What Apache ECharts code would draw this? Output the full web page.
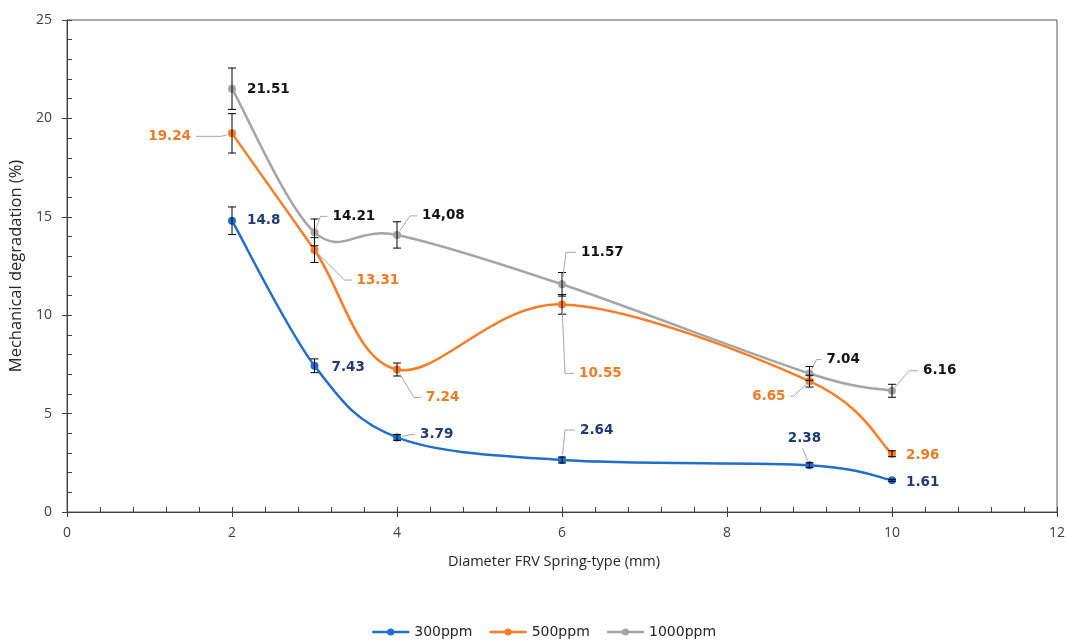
<!DOCTYPE html>
<html>
<head>
<meta charset="utf-8">
<script src="https://cdn.jsdelivr.net/npm/echarts@6/dist/echarts.min.js"></script>
<style>
  html, body { margin: 0; padding: 0; background: #fff; }
  #chart { width: 1069px; height: 641px; }
</style>
</head>
<body>
<div id="chart"></div>
<script>
// Spring-type FRV diameter (mm) and mechanical degradation (%) per polymer concentration
const diameters = [2, 3, 4, 6, 9, 10];
const seriesNames = ['300ppm', '500ppm', '1000ppm'];

const deg300  = [14.8, 7.43, 3.79, 2.64, 2.38, 1.61];
const deg500  = [19.24, 13.31, 7.24, 10.55, 6.65, 2.96];
const deg1000 = [21.51, 14.21, 14.08, 11.57, 7.04, 6.16];

// standard error (±) for each measurement
const err300  = [0.7, 0.35, 0.15, 0.15, 0.12, 0.05];
const err500  = [1.0, 0.63, 0.33, 0.5, 0.3, 0.15];
const err1000 = [1.05, 0.68, 0.67, 0.6, 0.35, 0.33];

// data label texts
const text300  = ['14.8', '7.43', '3.79', '2.64', '2.38', '1.61'];
const text500  = ['19.24', '13.31', '7.24', '10.55', '6.65', '2.96'];
const text1000 = ['21.51', '14.21', '14,08', '11.57', '7.04', '6.16'];

// label placement (pixel offset from the marker, optional leader elbow length)
const place300 = [
  { dx: 15, dy: 0 },
  { dx: 17, dy: 2 },
  { dx: 23, dy: -3, el: 8 },
  { dx: 18, dy: -30, el: 15 },
  { dx: -5, dy: -27, align: 'center', lead: true },
  { dx: 14, dy: 2 }
];
const place500 = [
  { dx: -41, dy: 3, align: 'right', el: 30 },
  { dx: 42, dy: 30, el: 12 },
  { dx: 29, dy: 28, el: 12 },
  { dx: 17, dy: 69, el: 14 },
  { dx: -24, dy: 15, align: 'right', el: 8 },
  { dx: 14, dy: 2 }
];
const place1000 = [
  { dx: 15, dy: 1 },
  { dx: 18, dy: -16, el: 12 },
  { dx: 25, dy: -19, el: 12 },
  { dx: 19, dy: -32, el: 15 },
  { dx: 17, dy: -14, el: 10 },
  { dx: 31, dy: -20, el: 14 }
];

const COLORS = ['#1f6fd2', '#f97c26', '#a5a5a5'];
const LABEL_COLORS = ['#1f3a78', '#f07a22', '#141414'];
const AXIS_COLOR = '#404040';
const AXIS_FONT = '"Open Sans"';

function pairs(values) {
  return diameters.map((d, i) => [d, values[i]]);
}

// markers (the connecting curve is drawn by curveSeries)
function markerSeries(name, values, color) {
  return {
    name: name,
    type: 'line',
    data: pairs(values),
    symbol: 'circle',
    symbolSize: 8,
    z: 4,
    lineStyle: { color: color, width: 2.5, opacity: 0 },
    itemStyle: { color: color },
    emphasis: { disabled: true }
  };
}

// smoothed curve through the points: cubic Bézier segments with
// Catmull-Rom style control points (tangent = (P[i+1] - P[i-1]) / 6)
function curveSeries(values, color) {
  return {
    type: 'custom',
    z: 2,
    silent: true,
    data: pairs(values),
    encode: { x: 0, y: 1 },
    renderItem: function (params, api) {
      if (params.dataIndex !== 0) return null;
      const pts = diameters.map((d, i) => api.coord([d, values[i]]));
      const n = pts.length;
      const children = [];
      for (let i = 0; i < n - 1; i++) {
        const p0 = pts[Math.max(i - 1, 0)];
        const p1 = pts[i];
        const p2 = pts[i + 1];
        const p3 = pts[Math.min(i + 2, n - 1)];
        children.push({
          type: 'bezierCurve',
          shape: {
            x1: p1[0], y1: p1[1],
            x2: p2[0], y2: p2[1],
            cpx1: p1[0] + (p2[0] - p0[0]) / 6, cpy1: p1[1] + (p2[1] - p0[1]) / 6,
            cpx2: p2[0] - (p3[0] - p1[0]) / 6, cpy2: p2[1] - (p3[1] - p1[1]) / 6
          },
          style: { stroke: color, lineWidth: 2.5, fill: null, lineCap: 'round' }
        });
      }
      return { type: 'group', children: children };
    }
  };
}

function errorSeries(values, errs) {
  return {
    type: 'custom',
    z: 6,
    silent: true,
    data: diameters.map((d, i) => [d, values[i] - errs[i], values[i] + errs[i]]),
    encode: { x: 0, y: [1, 2] },
    renderItem: function (params, api) {
      const x = api.value(0);
      const lo = api.coord([x, api.value(1)]);
      const hi = api.coord([x, api.value(2)]);
      const w = 4;
      const st = { stroke: '#000', lineWidth: 1 };
      return {
        type: 'group',
        children: [
          { type: 'line', shape: { x1: lo[0], y1: lo[1], x2: hi[0], y2: hi[1] }, style: st },
          { type: 'line', shape: { x1: lo[0] - w, y1: lo[1], x2: lo[0] + w, y2: lo[1] }, style: st },
          { type: 'line', shape: { x1: hi[0] - w, y1: hi[1], x2: hi[0] + w, y2: hi[1] }, style: st }
        ]
      };
    }
  };
}

function annotationSeries(values, texts, places, color) {
  return {
    type: 'custom',
    z: 10,
    silent: true,
    data: diameters.map((d, i) => [d, values[i], i]),
    encode: { x: 0, y: 1 },
    renderItem: function (params, api) {
      const i = api.value(2);
      const p = api.coord([api.value(0), api.value(1)]);
      const pl = places[i];
      const align = pl.align || 'left';
      const ax = p[0] + pl.dx;
      const ay = p[1] + pl.dy;
      const children = [];
      const leadStyle = { stroke: '#a6a6a6', lineWidth: 1, fill: null };
      if (pl.el) {
        const s = align === 'right' ? 1 : -1;
        const elbow = [ax + s * pl.el, ay];
        const end = [ax + s * 5, ay];
        const vx = elbow[0] - p[0], vy = elbow[1] - p[1];
        const len = Math.hypot(vx, vy) || 1;
        const start = [p[0] + vx / len * 5, p[1] + vy / len * 5];
        children.push({ type: 'polyline', shape: { points: [start, elbow, end] }, style: leadStyle });
      }
      if (pl.lead) {
        const target = [ax - 2, ay + 10];
        const vx = target[0] - p[0], vy = target[1] - p[1];
        const len = Math.hypot(vx, vy) || 1;
        const start = [p[0] + vx / len * 5, p[1] + vy / len * 5];
        children.push({ type: 'polyline', shape: { points: [start, target] }, style: leadStyle });
      }
      children.push({
        type: 'text',
        style: {
          text: texts[i],
          x: ax,
          y: ay,
          align: align,
          verticalAlign: 'middle',
          fill: color,
          font: 'bold 13.5px "DejaVu Sans"'
        }
      });
      return { type: 'group', children: children };
    }
  };
}

const chart = echarts.init(document.getElementById('chart'), null, { renderer: 'canvas' });

chart.setOption({
  animation: false,
  backgroundColor: '#ffffff',
  grid: {
    left: 67, right: 12, top: 20, bottom: 129,
    show: true, borderColor: '#595959', borderWidth: 1, backgroundColor: 'transparent'
  },
  legend: {
    data: seriesNames.map((n, k) => ({
      name: n,
      lineStyle: { color: COLORS[k], width: 2.5, opacity: 1 },
      itemStyle: { color: COLORS[k] }
    })),
    left: 366,
    top: 620,
    itemWidth: 37,
    itemHeight: 9,
    itemGap: 16,
    textStyle: { fontFamily: '"DejaVu Sans"', fontSize: 14, color: '#262626' }
  },
  xAxis: [
    {
      type: 'value', min: 0, max: 12, interval: 2,
      name: 'Diameter FRV Spring-type (mm)',
      nameLocation: 'middle', nameGap: 42,
      nameTextStyle: { fontFamily: AXIS_FONT, fontSize: 14.5, color: '#262626', padding: [0, 16, 0, 0] },
      axisLine: { show: true, lineStyle: { color: AXIS_COLOR, width: 1 } },
      axisTick: { show: true, inside: true, length: 5, lineStyle: { color: AXIS_COLOR } },
      minorTick: { show: true, splitNumber: 5, length: 5, lineStyle: { color: AXIS_COLOR } },
      splitLine: { show: false },
      axisLabel: { fontFamily: AXIS_FONT, fontSize: 14, color: '#404040', margin: 14 }
    },
    {
      type: 'value', min: 0, max: 12, interval: 2, position: 'bottom',
      axisLine: { show: false },
      axisTick: { show: true, inside: false, length: 5, lineStyle: { color: AXIS_COLOR } },
      axisLabel: { show: false },
      splitLine: { show: false }
    }
  ],
  yAxis: [
    {
      type: 'value', min: 0, max: 25, interval: 5,
      name: 'Mechanical degradation (%)',
      nameLocation: 'middle', nameGap: 42, nameRotate: 90,
      nameTextStyle: { fontFamily: AXIS_FONT, fontSize: 16.5, color: '#262626' },
      axisLine: { show: true, lineStyle: { color: AXIS_COLOR, width: 1 } },
      axisTick: { show: true, inside: true, length: 5, lineStyle: { color: AXIS_COLOR } },
      minorTick: { show: true, splitNumber: 5, length: 5, lineStyle: { color: AXIS_COLOR } },
      splitLine: { show: false },
      axisLabel: { fontFamily: AXIS_FONT, fontSize: 14, color: '#404040', margin: 15 }
    },
    {
      type: 'value', min: 0, max: 25, interval: 5, position: 'left',
      axisLine: { show: false },
      axisTick: { show: true, inside: false, length: 5, lineStyle: { color: AXIS_COLOR } },
      axisLabel: { show: false },
      splitLine: { show: false }
    }
  ],
  series: [
    curveSeries(deg300, COLORS[0]),
    curveSeries(deg500, COLORS[1]),
    curveSeries(deg1000, COLORS[2]),
    markerSeries(seriesNames[0], deg300, COLORS[0]),
    markerSeries(seriesNames[1], deg500, COLORS[1]),
    markerSeries(seriesNames[2], deg1000, COLORS[2]),
    errorSeries(deg300, err300),
    errorSeries(deg500, err500),
    errorSeries(deg1000, err1000),
    annotationSeries(deg300, text300, place300, LABEL_COLORS[0]),
    annotationSeries(deg500, text500, place500, LABEL_COLORS[1]),
    annotationSeries(deg1000, text1000, place1000, LABEL_COLORS[2])
  ]
});
</script>
</body>
</html>
